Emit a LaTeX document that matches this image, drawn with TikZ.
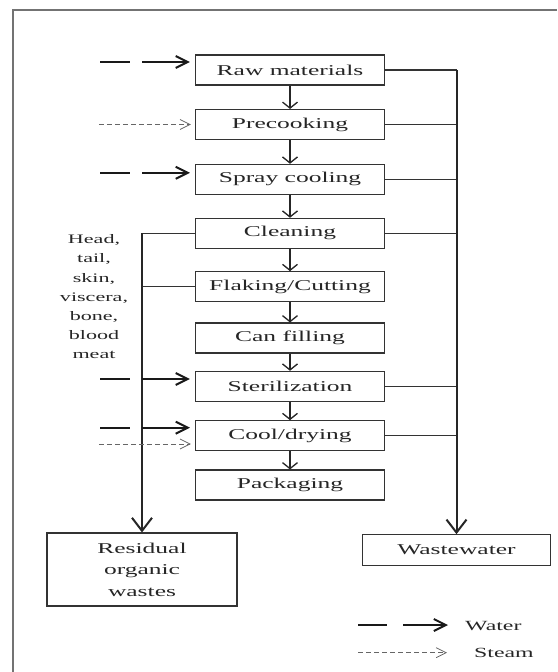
\documentclass[tikz,border=0pt]{standalone}
\usepackage{fontspec}
\setmainfont{Liberation Serif}[FakeStretch=1.7]
\usetikzlibrary{arrows.meta}

\tikzset{
	proc/.style={draw=black!80, line width=1.1pt, fill=white, minimum width=189pt, minimum height=30pt, inner sep=0pt, font=\fontsize{15}{21.5}\selectfont, text=black!85},
	flow/.style={draw=black!85, line width=1.3pt, -{Straight Barb[length=6pt,width=15pt]}},
	feed/.style={draw=black!80, line width=1.1pt},
	bus/.style={draw=black!85, line width=2pt, -{Straight Barb[length=13pt,width=20pt]}},
	water/.style={draw=black!90, line width=2pt, dash pattern=on 30pt off 12pt on 200pt, shorten >=5pt, -{Straight Barb[length=12pt,width=12pt]}},
	steam/.style={draw=black!60, line width=0.8pt, dash pattern=on 5pt off 3pt, shorten >=4pt, -{Straight Barb[length=10pt,width=10pt]}},
	note/.style={font=\fontsize{13}{19.2}\selectfont, align=center, text=black!85, inner sep=0pt},
}

\begin{document}
\begin{tikzpicture}[x=1pt, y=-1pt]
	\useasboundingbox (0,0) rectangle (557,672);
	\draw[black!55, line width=1.5pt] (13,672) -- (13,10) -- (557,10);
	% process steps
	\node[proc](A) at (290,70){Raw materials};
	\node[proc](B) at (290,124.5){Precooking};
	\node[proc](C) at (290,179.3){Spray cooling};
	\node[proc](D) at (290,233.3){Cleaning};
	\node[proc](E) at (290,286.7){Flaking/Cutting};
	\node[proc](F) at (290,338){Can filling};
	\node[proc](G) at (290,386.3){Sterilization};
	\node[proc](H) at (290,435.7){Cool/drying};
	\node[proc](I) at (290,485){Packaging};
	% outputs
	\node[proc, minimum width=190pt, minimum height=73pt, align=center](O) at (142,569.5){Residual\\organic\\wastes};
	\node[proc, minimum width=188pt, minimum height=30.5pt](W) at (456.5,550){Wastewater};
	\node[note, anchor=north](T) at (94,234.5){Head,\\tail,\\skin,\\viscera,\\bone,\\blood\\meat};
	\foreach \a/\b in {A/B,B/C,C/D,D/E,E/F,F/G,G/H,H/I}
		\draw[flow] (\a) -- (\b);
	% wastewater
	\foreach \n in {A,B,C,D,G,H}
		\draw[feed] (\n.east) -- (\n.east -| W.north);
	\draw[bus] (A.east -| W.north) -- (W.north);
	% solid wastes
	\foreach \n in {D,E}
		\draw[feed] (\n.west) -- (\n.west -| O.north);
	\draw[bus] (D.west -| O.north) -- (O.north);
	% water and steam in
	\draw[water] ([xshift=-94.5pt,yshift=8pt]A.west) -- ([yshift=8pt]A.west);
	\draw[steam] ([xshift=-96pt]B.west) -- (B.west);
	\draw[water] ([xshift=-94.5pt,yshift=6.5pt]C.west) -- ([yshift=6.5pt]C.west);
	\draw[water] ([xshift=-94.5pt,yshift=7.3pt]G.west) -- ([yshift=7.3pt]G.west);
	\draw[water] ([xshift=-94.5pt,yshift=8pt]H.west) -- ([yshift=8pt]H.west);
	\draw[steam] ([xshift=-96pt,yshift=-8.3pt]H.west) -- ([yshift=-8.3pt]H.west);
	% legend
	\coordinate (lw) at (358,625);
	\coordinate (ls) at (358,652.7);
	\node[note, font=\fontsize{14}{16}\selectfont, anchor=west](LW) at (465,626){Water};
	\node[note, font=\fontsize{14}{16}\selectfont, anchor=west](LS) at (474,653){Steam};
	\draw[water, dash pattern=on 29pt off 16pt on 200pt, shorten >=17pt] (lw) -- (LW.west |- lw);
	\draw[steam, shorten >=27pt] (ls) -- (LS.west |- ls);
\end{tikzpicture}
\end{document}
